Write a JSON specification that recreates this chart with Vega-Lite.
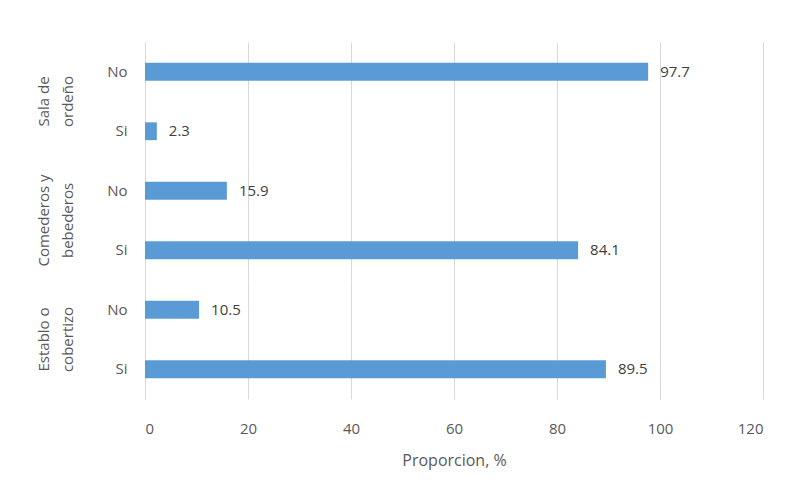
{
  "$schema": "https://vega.github.io/schema/vega-lite/v6.json",
  "background": "white",
  "padding": {"left": 36, "top": 42, "right": 10, "bottom": 10},
  "data": {
    "values": [
      {"grupo": "Sala de|ordeño", "resp": "No", "valor": 97.7},
      {"grupo": "Sala de|ordeño", "resp": "Si", "valor": 2.3},
      {"grupo": "Comederos y|bebederos", "resp": "No", "valor": 15.9},
      {"grupo": "Comederos y|bebederos", "resp": "Si", "valor": 84.1},
      {"grupo": "Establo o|cobertizo", "resp": "No", "valor": 10.5},
      {"grupo": "Establo o|cobertizo", "resp": "Si", "valor": 89.5}
    ]
  },
  "facet": {
    "row": {
      "field": "grupo",
      "sort": ["Sala de|ordeño", "Comederos y|bebederos", "Establo o|cobertizo"],
      "title": null,
      "header": {
        "labelExpr": "split(datum.value, '|')",
        "labelAngle": -90,
        "labelOrient": "left",
        "labelFont": "Open Sans",
        "labelFontSize": 15,
        "labelColor": "#595959",
        "labelLineHeight": 24,
        "labelPadding": 24
      }
    }
  },
  "spacing": {"row": 0},
  "spec": {
    "width": 618,
    "height": 119,
    "layer": [
      {
        "mark": {"type": "bar", "color": "#5B9BD5"},
        "encoding": {
          "y": {
            "field": "resp",
            "type": "nominal",
            "sort": ["No", "Si"],
            "title": null,
            "scale": {"paddingInner": 0.7, "paddingOuter": 0.35},
            "axis": {
              "labelFont": "Open Sans",
              "labelFontSize": 15,
              "labelColor": "#595959",
              "ticks": false,
              "labelPadding": 18,
              "domainColor": "#d9d9d9"
            }
          },
          "x": {
            "field": "valor",
            "type": "quantitative",
            "scale": {"domain": [0, 120]},
            "axis": {
              "values": [0, 20, 40, 60, 80, 100, 120],
              "title": "Proporcion, %",
              "titleFont": "Open Sans",
              "titleFontSize": 16,
              "titleFontWeight": "normal",
              "titleColor": "#595959",
              "titlePadding": 16,
              "labelFont": "Open Sans",
              "labelFontSize": 15,
              "labelColor": "#595959",
              "labelPadding": 22,
              "ticks": false,
              "domain": false,
              "gridColor": "#d9d9d9"
            }
          }
        }
      },
      {
        "mark": {"type": "text", "align": "left", "dx": 12, "font": "Open Sans", "fontSize": 15, "color": "#404040"},
        "encoding": {
          "y": {"field": "resp", "type": "nominal", "sort": ["No", "Si"]},
          "x": {"field": "valor", "type": "quantitative"},
          "text": {"field": "valor", "type": "quantitative", "format": ".1f"}
        }
      }
    ]
  },
  "config": {"view": {"stroke": null}}
}
